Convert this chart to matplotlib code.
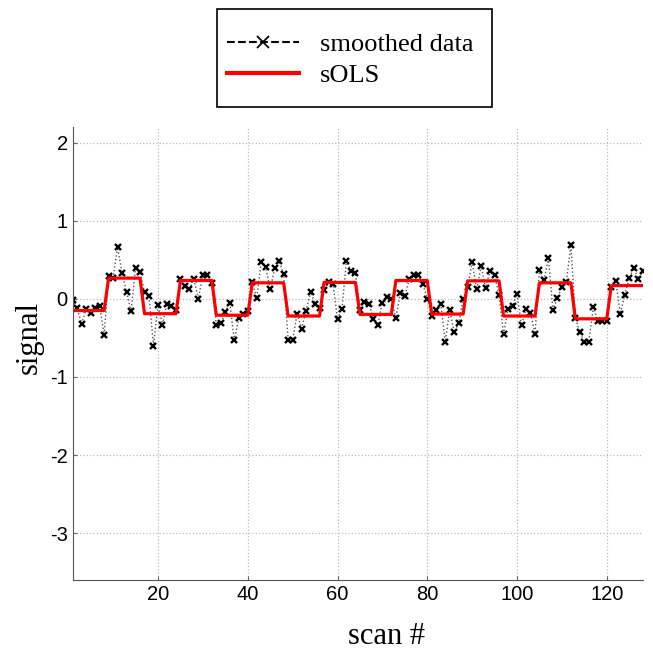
import numpy as np
import matplotlib
matplotlib.use('Agg')
import matplotlib.pyplot as plt
from matplotlib.lines import Line2D
from matplotlib.patches import Rectangle

plt.rcParams['axes.unicode_minus'] = False

# Значення
smoothed = [
    -0.01, -0.12, -0.32, -0.13, -0.18, -0.12, -0.09, -0.46,
    0.29, 0.27, 0.66, 0.33, 0.09, -0.16, 0.39, 0.34,
    0.09, 0.04, -0.60, -0.08, -0.33, -0.06, -0.09, -0.14,
    0.26, 0.17, 0.13, 0.25, 0.00, 0.31, 0.31, 0.20,
    -0.34, -0.31, -0.17, -0.05, -0.53, -0.25, -0.19, -0.16,
    0.21, 0.01, 0.47, 0.41, 0.12, 0.39, 0.48, 0.32,
    -0.53, -0.53, -0.19, -0.38, -0.15, 0.09, -0.06, -0.12,
    0.11, 0.21, 0.19, -0.26, -0.13, 0.49, 0.36, 0.33,
    -0.14, -0.04, -0.06, -0.26, -0.33, -0.05, 0.02, 0.00,
    -0.25, 0.07, 0.04, 0.25, 0.30, 0.30, 0.19, 0.00,
    -0.22, -0.14, -0.06, -0.55, -0.14, -0.43, -0.31, 0.00,
    0.15, 0.47, 0.12, 0.42, 0.14, 0.36, 0.30, 0.05,
    -0.45, -0.13, -0.09, 0.06, -0.34, -0.13, -0.18, -0.45,
    0.37, 0.24, 0.52, -0.14, 0.01, 0.15, 0.22, 0.69,
    -0.24, -0.43, -0.55, -0.55, -0.11, -0.28, -0.28, -0.28,
    0.15, 0.23, -0.19, 0.05, 0.27, 0.39, 0.26, 0.35,
]
block_levels = [-0.15, 0.265, -0.19, 0.235, -0.21, 0.205, -0.22, 0.21,
                -0.20, 0.235, -0.195, 0.23, -0.22, 0.205, -0.256, 0.17]
block_len = 8

scans = np.arange(1, len(smoothed) + 1)
sols = np.repeat(block_levels, block_len)

W, H = 653, 654
fig = plt.figure(figsize=(W / 100, H / 100), dpi=100)
ax = fig.add_axes([72.7 / W, 1 - 580 / H, 570 / W, 453 / H])

ax.plot(scans, smoothed, color='#555555', linestyle=':', linewidth=1.0,
        marker='x', markersize=5, markeredgewidth=1.7, markeredgecolor='black')
ax.plot(scans, sols, color='red', linewidth=2.3)

ax.set_xlim(1, 128)
ax.set_ylim(-3.6, 2.2)
ax.set_xticks([20, 40, 60, 80, 100, 120])
ax.set_yticks([-3, -2, -1, 0, 1, 2])
ax.tick_params(direction='in', length=3, labelsize=14.5, color='#666666')
for lbl in ax.get_xticklabels() + ax.get_yticklabels():
    lbl.set_family('Liberation Sans')

ax.grid(True, linestyle=':', color='#bbbbbb', linewidth=0.9)
ax.spines['top'].set_visible(False)
ax.spines['right'].set_visible(False)
ax.spines['left'].set_color('#555555')
ax.spines['bottom'].set_color('#555555')

ax.set_xlabel('scan #', family='Liberation Serif', fontsize=22)
ax.set_ylabel('signal', family='Liberation Serif', fontsize=22)
ax.xaxis.set_label_coords((386 - 72.7) / 570, (580 - 622) / 453)
ax.yaxis.set_label_coords((44 - 72.7) / 570, (580 - 338) / 453)

# Рамка легенди
fig.patches.append(Rectangle((217 / W, 1 - 107 / H), 275 / W, 98 / H,
                             transform=fig.transFigure, fill=False,
                             edgecolor='black', linewidth=1.2))

handles = [
    Line2D([], [], color='black', linestyle='--', linewidth=1.5, marker='x',
           markersize=8, markeredgewidth=1.3),
    Line2D([], [], color='red', linewidth=3),
]
fig.legend(handles, ['smoothed data', 'sOLS'], loc='upper left',
           bbox_to_anchor=(227 / W, 1 - 33 / H),
           prop={'family': 'Liberation Serif', 'size': 19},
           frameon=False, handlelength=2.73, borderpad=0,
           labelspacing=0.28, handletextpad=0.8, borderaxespad=0)

fig.savefig('out.png', dpi=100)
